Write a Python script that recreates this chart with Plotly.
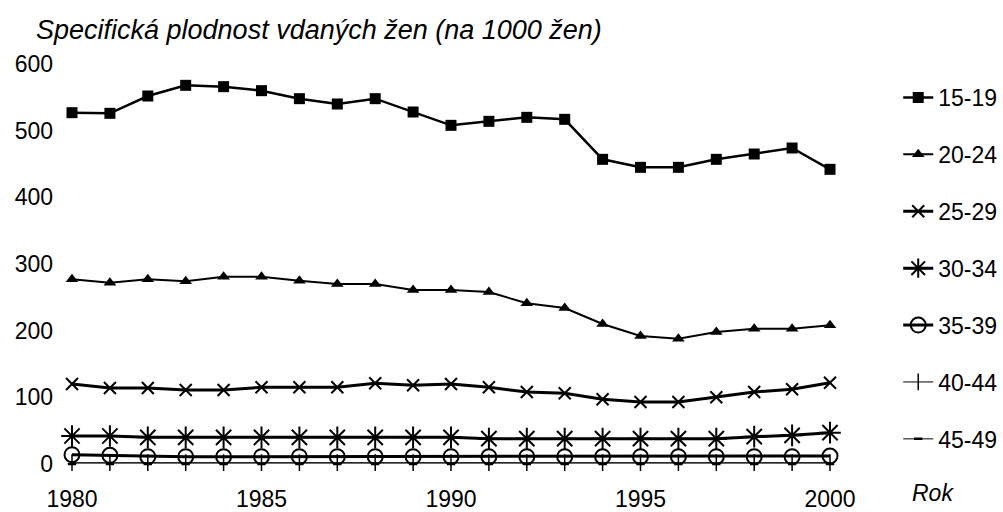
import plotly.graph_objects as go

years = list(range(1980, 2001))
age_groups = ["15-19", "20-24", "25-29", "30-34", "35-39", "40-44", "45-49"]

v_15_19 = [527, 526, 552, 568, 566, 560, 548, 540, 548, 528, 508, 514, 520, 517, 457, 445, 445, 457, 465, 474, 442]
v_20_24 = [277, 272, 277, 274, 281, 281, 275, 270, 270, 261, 261, 258, 241, 234, 210, 192, 188, 198, 203, 203, 208]
v_25_29 = [120, 114, 114, 111, 111, 115, 115, 115, 121, 118, 120, 115, 108, 106, 97, 93, 93, 100, 108, 112, 122]
v_30_34 = [42, 42, 40, 40, 40, 40, 40, 40, 40, 40, 40, 38, 38, 38, 38, 38, 38, 38, 41, 43, 47]
v_35_39 = [14, 13, 11, 11, 11, 11, 11, 11, 11, 11, 11, 11, 11, 11, 11, 11, 11, 11, 11, 11, 12]
v_40_44 = [2, 2, 2, 2, 2, 2, 2, 2, 2, 2, 2, 2, 2, 2, 2, 2, 2, 2, 2, 2, 2]
v_45_49 = [0, 0, 0, 0, 0, 0, 0, 0, 0, 0, 0, 0, 0, 0, 0, 0, 0, 0, 0, 0, 0]

series = [v_15_19, v_20_24, v_25_29, v_30_34, v_35_39, v_40_44, v_45_49]

styles = [
    dict(symbol="square", size=11, lw=2.5, mlw=0),
    dict(symbol="triangle-up", size=11, lw=2, mlw=0),
    dict(symbol="x-thin-open", size=12, lw=3, mlw=2),
    dict(symbol="asterisk-open", size=18, lw=3, mlw=2),
    dict(symbol="circle-open", size=15, lw=3, mlw=2),
    dict(symbol="line-ns-open", size=12, lw=1, mlw=1.5),
    dict(symbol="line-ew-open", size=6, lw=1, mlw=2.5),
]

FONT = "Liberation Sans, Arial, Helvetica, sans-serif"

fig = go.Figure()
for name, vals, st in zip(age_groups, series, styles):
    fig.add_trace(go.Scatter(
        x=years, y=vals, name=name, mode="lines+markers",
        line=dict(color="black", width=st["lw"]),
        marker=dict(symbol=st["symbol"], size=st["size"], color="black",
                    line=dict(color="black", width=st["mlw"])),
        cliponaxis=False, legendgroup=name,
    ))

fig.update_layout(
    width=1003, height=512,
    margin=dict(l=72, r=173, t=64, b=48, autoexpand=False),
    paper_bgcolor="white", plot_bgcolor="white",
    font=dict(family=FONT, size=23, color="black"),
    showlegend=True,
    legend=dict(x=1.09, xanchor="left", y=0.97, yanchor="top",
                font=dict(size=23), tracegroupgap=24, maxheight=510,
                bgcolor="rgba(0,0,0,0)"),
    xaxis=dict(range=[1980, 2000], tickvals=[1980, 1985, 1990, 1995, 2000],
               showgrid=False, zeroline=False, showline=False, automargin=False,
               ticks="", ticklabelstandoff=19, tickfont=dict(size=23)),
    yaxis=dict(range=[0, 600], tickvals=[0, 100, 200, 300, 400, 500, 600],
               showgrid=False, zeroline=False, showline=False, automargin=False,
               ticks="", ticklabelstandoff=18, tickfont=dict(size=23)),
    annotations=[
        dict(text="Specifická plodnost vdaných žen (na 1000 žen)",
             xref="paper", yref="paper", x=-0.05, y=1.085,
             xanchor="left", yanchor="middle", showarrow=False,
             font=dict(size=27, style="italic")),
        dict(text="Rok", xref="paper", yref="paper", x=1.136, y=-0.0725,
             xanchor="center", yanchor="middle", showarrow=False,
             font=dict(size=23, style="italic")),
    ],
)

fig.write_html("out.html", config={"displayModeBar": False},
               post_script="document.body.style.margin='0';")
